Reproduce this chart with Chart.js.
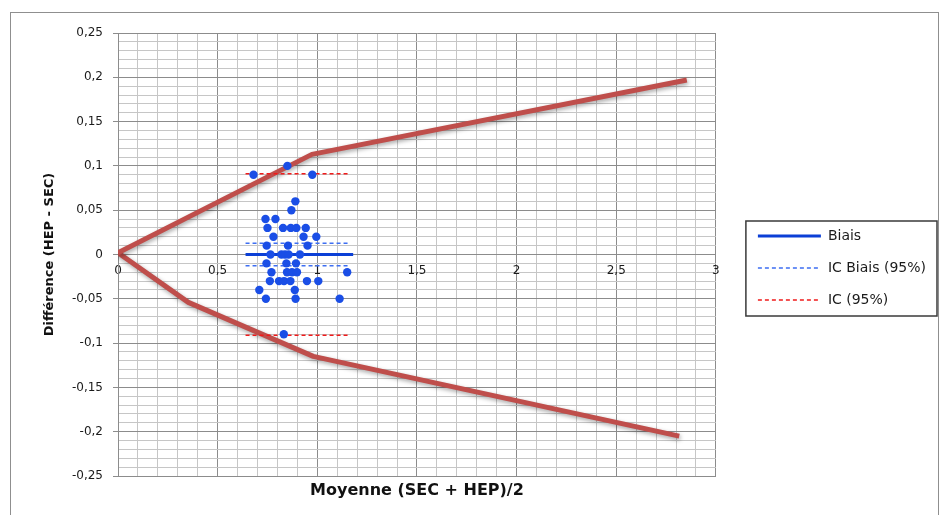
<!DOCTYPE html>
<html><head><meta charset="utf-8">
<script src="https://cdn.jsdelivr.net/npm/chart.js@4"></script>
<style>
html,body{margin:0;padding:0;background:#fff;overflow:hidden;width:941px;height:515px}
#frame{position:absolute;left:10px;top:12px;width:927px;height:600px;border:1px solid #8f8f8f;border-bottom:none}
#wrap{position:absolute;left:0;top:0;width:941px;height:515px}
</style></head><body>
<div id="frame"></div>
<div id="wrap"><canvas id="c" width="941" height="515"></canvas></div>
<script>
// ---- data ----
const pointMean = [0.68,0.85,0.975, 0.89,0.87, 0.74,0.79, 0.75,0.828,0.867,0.895,0.942,
  0.78,0.931,0.995, 0.746,0.853,0.951, 0.765,0.82,0.838,0.856,0.913,
  0.745,0.845,0.893, 0.77,0.848,0.873,0.898,1.15,
  0.762,0.808,0.833,0.865,0.948,1.005, 0.709,0.887, 0.742,0.891,1.112, 0.832];
const pointDiff = [0.09,0.10,0.09, 0.06,0.05, 0.04,0.04, 0.03,0.03,0.03,0.03,0.03,
  0.02,0.02,0.02, 0.01,0.01,0.01, 0,0,0,0,0,
  -0.01,-0.01,-0.01, -0.02,-0.02,-0.02,-0.02,-0.02,
  -0.03,-0.03,-0.03,-0.03,-0.03,-0.03, -0.04,-0.04, -0.05,-0.05,-0.05, -0.09];
const biasX = [0.64, 1.18];
const biasY = [0, 0];
const icBiaisX = [0.64, 1.156];
const icBiaisUpper = [0.0127, 0.0127];
const icBiaisLower = [-0.0127, -0.0127];
const icX = [0.64, 1.156];
const icUpper = [0.091, 0.091];
const icLower = [-0.091, -0.091];
const limitUpperX = [0, 0.973, 2.854];
const limitUpperY = [0.002, 0.113, 0.197];
const limitLowerX = [0, 0.353, 0.98, 2.816];
const limitLowerY = [0.002, -0.054, -0.115, -0.205];
const xTickValues = [0, 0.5, 1, 1.5, 2, 2.5, 3];
const seriesNames = ['Biais', 'IC Biais (95%)', 'IC (95%)'];
const xTitle = 'Moyenne (SEC + HEP)/2';
const yTitle = 'Différence (HEP - SEC)';

// ---- helpers ----
const pts = (xs, ys) => xs.map((x, i) => ({x: x, y: ys[i]}));
const isMajor = (v, s) => Math.abs(v / s - Math.round(v / s)) < 1e-6;
const fmt = v => { const r = Math.round(v * 100) / 100; return (r === 0 ? '0' : String(r)).replace('.', ','); };
const MAJOR = '#8c8c8c', MINOR = '#c6c6c6';
const TXT = '#1b1b1b';
const LEGEND_FONT = {family: "'DejaVu Sans', sans-serif", size: 14};
const LEGEND_LINE = 63;

const lineDs = (label, xs, ys, color, width, dash, inLegend) => ({
  label: label, data: pts(xs, ys), showLine: true, borderColor: color, backgroundColor: color,
  borderWidth: width, borderDash: dash, pointRadius: 0, pointHoverRadius: 0, fill: false,
  tension: 0, xAxisID: 'x', yAxisID: 'y', inLegend: inLegend, order: 1
});

const datasets = [
  lineDs(seriesNames[0], biasX, biasY, '#0b3fd6', 3, [], true),
  lineDs(seriesNames[1], icBiaisX, icBiaisUpper, '#3d6ef2', 1.5, [4, 3], true),
  lineDs(seriesNames[1] + ' ', icBiaisX, icBiaisLower, '#3d6ef2', 1.5, [4, 3], false),
  lineDs(seriesNames[2], icX, icUpper, '#f01a1a', 1.5, [4, 3], true),
  lineDs(seriesNames[2] + ' ', icX, icLower, '#f01a1a', 1.5, [4, 3], false),
  { label: 'points', data: pts(pointMean, pointDiff), showLine: false, pointRadius: 4.2, pointHoverRadius: 4.2,
    pointBackgroundColor: '#1a4ee6', pointBorderColor: '#1a4ee6', pointBorderWidth: 0,
    xAxisID: 'x', yAxisID: 'y', inLegend: false, order: 0 },
  Object.assign(lineDs('limite sup', limitUpperX, limitUpperY, '#bf4e4b', 5, [], false), {order: 2, shadow: true, borderJoinStyle: 'round'}),
  Object.assign(lineDs('limite inf', limitLowerX, limitLowerY, '#bf4e4b', 5, [], false), {order: 2, shadow: true, borderJoinStyle: 'round'})
];

const shadowPlugin = {
  id: 'shadowLines',
  beforeDatasetDraw(chart, args) {
    const ds = chart.data.datasets[args.index];
    if (ds.shadow) { const c = chart.ctx; c.save(); c.shadowColor = 'rgba(0,0,0,0.35)'; c.shadowBlur = 4; c.shadowOffsetX = 1; c.shadowOffsetY = 2; }
  },
  afterDatasetDraw(chart, args) {
    const ds = chart.data.datasets[args.index];
    if (ds.shadow) chart.ctx.restore();
  }
};

const legendBoxPlugin = {
  id: 'legendBox',
  afterDraw(chart) {
    const lg = chart.legend;
    if (!lg || !lg.legendHitBoxes || !lg.legendHitBoxes.length) return;
    const hb = lg.legendHitBoxes;
    const c = chart.ctx;
    c.save();
    c.font = Chart.helpers.toFont(LEGEND_FONT).string;
    const textW = Math.max(...lg.legendItems.map(it => c.measureText(it.text).width));
    const x0 = Math.min(...hb.map(h => h.left));
    const left = x0 - 12;
    const right = x0 + LEGEND_LINE + LEGEND_FONT.size / 2 + textW + 11;
    const top = hb[0].top - 8;
    const last = hb[hb.length - 1];
    const bottom = last.top + last.height + 9;
    c.strokeStyle = '#3a3a3a';
    c.lineWidth = 1.5;
    c.strokeRect(left, top, right - left, bottom - top);
    c.restore();
  }
};

const baseFont = {family: "'DejaVu Sans', sans-serif", size: 12};

new Chart(document.getElementById('c'), {
  type: 'scatter',
  data: { datasets: datasets },
  plugins: [shadowPlugin, legendBoxPlugin],
  options: {
    responsive: false, animation: false, devicePixelRatio: 1,
    events: [],
    layout: { padding: { left: 36, top: 33, right: 5, bottom: 12 } },
    plugins: {
      tooltip: { enabled: false },
      legend: {
        position: 'right', align: 'center', maxWidth: 400,
        labels: {
          usePointStyle: true, pointStyle: 'line', pointStyleWidth: LEGEND_LINE, padding: 18,
          font: LEGEND_FONT, color: TXT,
          generateLabels: chart => Chart.defaults.plugins.legend.labels.generateLabels(chart)
            .filter(it => chart.data.datasets[it.datasetIndex].inLegend)
            .map(it => { const ds = chart.data.datasets[it.datasetIndex];
              it.lineDash = ds.borderDash || []; it.lineWidth = ds.borderWidth; it.strokeStyle = ds.borderColor;
              it.pointStyle = 'line'; return it; })
        }
      }
    },
    scales: {
      x: {
        type: 'linear', position: 'bottom', min: 0, max: 3,
        afterFit: s => { s.height = 27; },
        ticks: { display: false, stepSize: 0.1, maxTicksLimit: 100 },
        grid: { color: c => isMajor(c.tick.value, 0.5) ? MAJOR : MINOR, drawTicks: false, lineWidth: 1 },
        border: { color: MAJOR },
        title: { display: true, text: xTitle, color: '#111',
          font: {family: "'DejaVu Sans', sans-serif", size: 16, weight: 'bold'}, padding: {top: 0, bottom: 3} }
      },
      x2: {
        type: 'linear', axis: 'x', position: { y: 0 }, min: 0, max: 3,
        afterBuildTicks: s => { s.ticks = xTickValues.map(v => ({value: v})); },
        ticks: { padding: 9, font: baseFont, color: TXT, maxRotation: 0, autoSkip: false, callback: v => fmt(v) },
        grid: { display: false, drawTicks: false },
        border: { display: false }
      },
      y: {
        type: 'linear', position: 'left', min: -0.25, max: 0.25,
        afterFit: s => { s.width = 82; },
        ticks: { stepSize: 0.01, maxTicksLimit: 100, autoSkip: false, padding: 10, font: baseFont, color: TXT,
          callback: v => isMajor(v, 0.05) ? fmt(v) : '' },
        grid: { color: c => isMajor(c.tick.value, 0.05) ? MAJOR : MINOR,
          tickColor: c => isMajor(c.tick.value, 0.05) ? MAJOR : 'rgba(0,0,0,0)', tickLength: 5, lineWidth: 1 },
        border: { color: MAJOR },
        title: { display: true, text: yTitle, color: '#111',
          font: {family: "'DejaVu Sans', sans-serif", size: 13, weight: 'bold'}, padding: {top: 6, bottom: 0} }
      },
      yR: {
        type: 'linear', position: 'right', display: true,
        afterFit: s => { s.width = 24; },
        ticks: { display: false }, grid: { display: false, drawTicks: false }, border: { display: false }
      }
    }
  }
});
</script>
</body></html>
